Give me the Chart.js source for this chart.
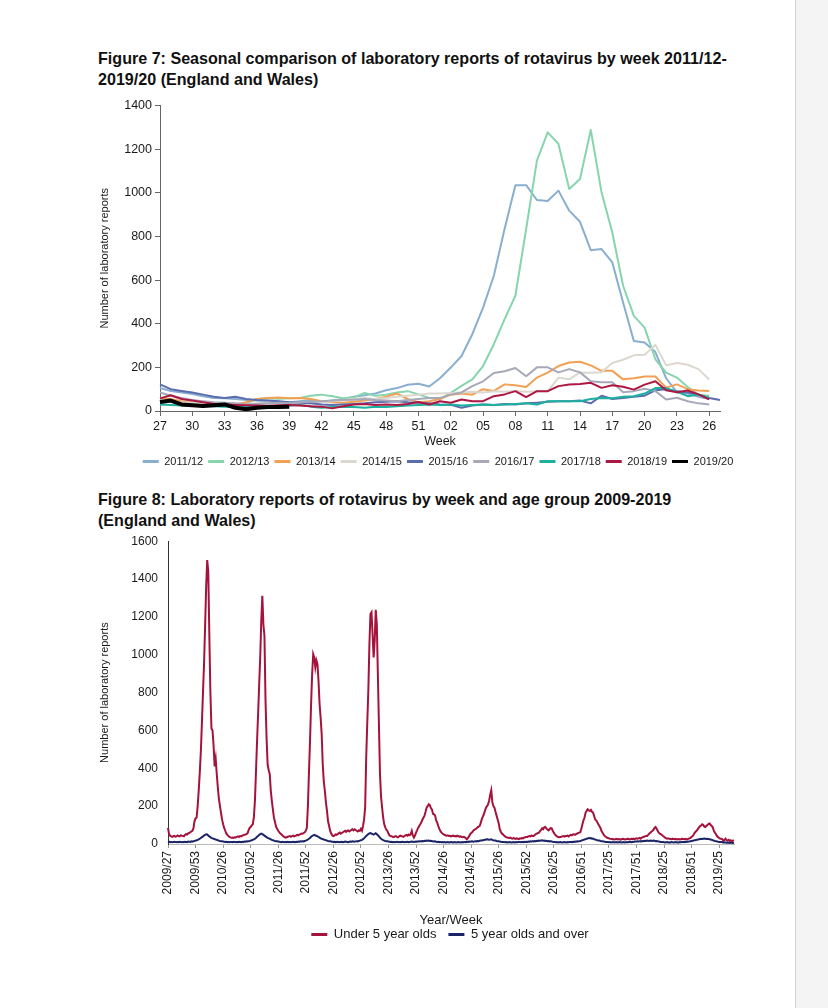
<!DOCTYPE html>
<html><head><meta charset="utf-8">
<script src="https://cdn.jsdelivr.net/npm/chart.js@4.4.1/dist/chart.umd.min.js"></script>
<style>
html,body{margin:0;padding:0;background:#fff;}
body{width:828px;height:1008px;position:relative;overflow:hidden;font-family:'Liberation Sans',Arial,sans-serif;}
.title{position:absolute;left:98px;font-weight:bold;font-size:16.1px;line-height:21px;color:#111;white-space:nowrap;}
#t7{top:48px;}
#t8{top:489px;}
canvas{position:absolute;}
#c7{left:90px;top:95px;}
#c8{left:90px;top:524px;}
#edge{position:absolute;left:795px;top:0;width:33px;height:1008px;background:#f4f4f4;border-left:1px solid #d2d2d2;}
</style></head>
<body>
<div id="edge"></div>
<div class="title" id="t7">Figure 7: Seasonal comparison of laboratory reports of rotavirus by week 2011/12-<br>2019/20 (England and Wales)</div>
<div class="title" id="t8">Figure 8: Laboratory reports of rotavirus by week and age group 2009-2019<br>(England and Wales)</div>
<canvas id="c7" width="650" height="386" style="width:650px;height:386px"></canvas>
<canvas id="c8" width="700" height="439" style="width:700px;height:439px"></canvas>
<script>
// ---------- Figure 7 data ----------
const weeks = ['27','28','29','30','31','32','33','34','35','36','37','38','39','40','41','42','43','44','45','46','47','48','49','50','51','52',
 '01','02','03','04','05','06','07','08','09','10','11','12','13','14','15','16','17','18','19','20','21','22','23','24','25','26',''];
const seasonNames = ['2011/12','2012/13','2013/14','2014/15','2015/16','2016/17','2017/18','2018/19','2019/20'];
const seasonColors = ['#88afd0','#86d5ad','#f2a054','#dcd8d0','#5a6dae','#a7a9b9','#1cb09e','#ae1742','#000000'];
const s2011 = [105,92,85,78,68,60,58,55,50,48,45,42,40,45,50,42,48,55,65,72,80,95,105,120,125,112,
 150,199,252,352,474,620,835,1035,1035,967,962,1010,918,867,737,742,681,497,321,314,270,150,85,80,65,55];
const s2012 = [38,42,36,32,30,30,28,32,35,55,58,56,58,60,70,75,68,58,62,83,70,75,85,91,76,60,
 55,83,115,145,206,306,421,528,834,1147,1277,1224,1017,1063,1288,1002,818,574,436,382,237,176,153,110,75,70];
const s2013 = [60,55,45,40,38,35,32,30,40,55,60,62,58,60,55,45,40,38,42,48,55,65,80,55,40,45,
 55,75,80,75,100,92,122,118,110,153,176,206,222,226,209,184,184,145,150,158,158,107,122,100,94,92];
const s2014 = [50,45,40,38,35,30,28,25,30,35,40,38,35,30,35,40,45,50,55,60,55,60,65,70,75,80,
 80,82,85,88,85,90,88,92,88,90,90,153,145,177,175,178,220,235,255,258,303,209,220,212,192,144];
const s2015 = [122,100,92,85,75,65,60,65,55,50,48,45,40,38,35,30,28,30,32,35,40,42,45,40,38,35,
 30,28,15,25,30,28,32,30,35,38,42,45,45,48,35,70,55,60,65,70,95,100,90,85,75,60,50];
const s2016 = [85,70,60,50,45,40,38,35,30,32,35,38,36,40,42,45,48,50,52,55,50,48,45,50,55,60,
 60,75,85,114,136,174,182,197,159,200,200,177,192,177,136,132,132,86,91,102,91,53,61,45,35,30];
const s2017 = [30,28,25,24,22,22,20,20,18,18,20,22,25,28,20,15,18,20,18,15,20,18,22,25,28,30,
 28,30,25,28,30,28,30,32,35,30,45,45,45,45,55,60,58,65,68,80,105,105,88,68,76,60];
const s2018 = [58,72,55,48,40,32,30,28,26,25,24,26,28,25,22,20,12,22,30,32,28,30,28,32,41,30,
 45,38,53,45,45,68,76,91,64,91,91,114,121,124,129,106,118,111,98,121,136,95,86,94,76,53];
const s2019 = [41,48,30,26,23,26,30,15,8,15,18,18,20];
const seasonValues = [s2011,s2012,s2013,s2014,s2015,s2016,s2017,s2018,s2019];
const yTicks7 = [0,200,400,600,800,1000,1200,1400];

// ---------- Figure 8 data ----------
const startYear = 2009, startWeek = 27, endYear = 2019, endWeek = 39;
const longYears = [2009, 2015]; // years with ISO week 53
const under5 = [
 85,52,44,40,38,41,43,39,40,45,42,40,46,44,43,41,48,52,50,56,58,62,66,70,82,120,
 135,140,200,285,380,490,640,800,950,1150,1360,1500,1440,1100,800,610,600,520,410,450,370,300,240,200,165,130,
 104,85,70,56,48,42,38,35,33,34,32,36,35,38,40,37,42,40,44,46,48,50,52,56,72,85,
 90,98,104,140,227,380,540,686,840,986,1180,1312,1160,1100,760,560,420,390,369,280,227,180,139,115,90,80,
 70,62,55,51,45,40,36,34,36,38,40,42,38,42,44,40,43,45,48,46,50,52,55,54,58,62,
 70,86,200,380,545,740,900,1004,986,933,970,951,862,740,668,580,420,330,280,220,175,120,95,69,55,45,
 42,44,50,48,52,56,60,54,58,62,66,70,64,69,72,66,70,75,78,72,78,74,70,66,72,69,
 80,70,95,130,192,457,640,810,1050,1215,1224,1109,986,1074,1238,1162,898,633,369,250,192,140,104,88,75,69,
 55,45,42,40,38,36,40,42,38,35,40,44,42,40,38,42,45,48,44,50,46,52,69,45,34,45,
 60,72,85,95,104,115,128,139,150,170,192,200,210,205,190,183,160,157,150,125,113,95,80,69,60,55,
 51,48,45,44,46,42,43,40,42,44,41,42,40,44,42,38,40,37,36,38,35,30,25,32,40,51,
 58,62,70,75,78,82,88,92,95,110,130,145,157,175,192,200,210,230,260,284,220,200,192,170,150,130,
 110,78,65,55,51,45,40,36,34,33,32,34,30,28,32,29,27,30,28,26,30,28,32,30,34,36,
 37,37,40,42,40,45,42,42,48,52,55,58,60,68,75,83,78,88,90,82,76,72,78,84,83,70,
 60,51,45,40,37,36,37,38,40,42,39,42,42,44,40,45,48,46,50,51,48,52,55,58,60,62,
 80,104,125,140,166,175,183,178,175,180,170,166,150,130,125,115,104,95,85,69,60,50,42,38,34,32,
 30,28,27,25,26,24,25,27,24,26,25,23,25,27,26,24,25,26,28,25,24,27,26,28,25,28,
 30,28,30,32,28,34,36,38,40,42,42,48,55,60,65,69,75,85,90,80,70,60,55,52,48,42,
 38,34,30,28,30,27,26,25,28,26,25,27,24,25,26,24,25,28,26,25,27,24,26,28,30,32,
 38,42,50,60,66,72,80,88,95,98,104,100,92,90,96,100,106,108,100,95,88,69,60,52,42,36,
 32,28,28,25,16,22,28,20,18,22,16,20,14,18,20];
const over5 = [
 14,12,10,11,9,10,12,10,9,11,10,12,10,9,11,10,12,11,10,13,12,11,14,12,15,16,
 18,20,22,25,28,32,36,40,45,48,51,50,45,40,36,32,30,28,26,24,22,20,18,16,15,14,
 13,12,11,12,10,11,9,10,11,10,12,10,9,11,10,12,11,10,12,11,13,12,14,13,15,16,
 18,20,22,24,28,32,38,42,48,52,55,52,48,44,40,36,32,30,28,25,22,20,18,16,15,14,
 13,12,11,10,12,10,9,11,10,12,10,11,9,10,12,11,10,12,11,13,12,14,13,15,14,16,
 18,20,24,28,32,38,42,46,48,45,44,40,38,34,30,28,26,24,22,20,18,16,15,14,13,12,
 11,12,10,11,12,10,9,11,12,10,11,13,12,11,10,12,13,12,14,13,12,14,15,14,16,18,
 20,22,26,30,36,42,48,52,56,58,55,52,50,54,57,52,46,40,34,28,24,20,18,16,15,14,
 13,12,11,12,10,11,9,10,12,10,9,11,10,12,11,9,10,11,12,10,11,12,13,12,11,12,
 13,12,14,13,15,14,16,15,17,16,18,17,18,16,17,15,14,13,14,12,11,12,10,11,9,10,
 9,10,8,9,10,8,9,10,9,8,10,9,8,9,10,9,8,9,10,9,11,10,12,11,13,12,
 13,14,12,13,15,14,16,15,17,18,19,20,21,22,24,25,24,22,23,25,22,20,19,18,16,15,
 14,13,12,11,10,11,9,10,8,9,10,9,8,9,10,8,9,10,9,11,10,9,11,10,12,11,
 12,11,13,12,14,13,15,14,16,15,17,16,18,17,18,19,17,18,16,17,15,16,14,15,13,12,
 11,10,9,10,8,9,10,9,8,9,10,9,8,10,9,10,11,10,12,11,13,12,14,13,15,16,
 18,20,22,24,26,28,30,32,30,31,28,29,26,24,22,20,19,18,16,15,14,13,12,11,10,10,
 9,10,8,9,10,8,9,10,8,9,10,9,8,9,10,8,9,10,9,10,11,10,12,11,12,13,
 13,14,13,15,14,16,15,16,17,16,18,17,16,18,17,16,18,17,15,16,14,13,12,11,10,10,
 9,8,9,10,8,9,8,10,9,8,9,10,8,9,8,10,9,10,11,10,12,11,13,12,14,15,
 16,17,18,20,21,22,24,25,26,28,27,28,29,28,27,28,26,25,24,22,20,18,16,15,14,12,
 11,10,10,9,8,9,8,7,8,7,6,7,6,5,6];
const ageNames = ['Under 5 year olds','5 year olds and over'];
const ageColors = ['#a5123c','#1b2467'];
const yTicks8 = [0,200,400,600,800,1000,1200,1400,1600];

// category labels Year/Week
const yearWeek = [];
for (let y = startYear; y <= endYear; y++) {
  const last = y === endYear ? endWeek : (longYears.includes(y) ? 53 : 52);
  for (let w = (y === startYear ? startWeek : 1); w <= last; w++) {
    yearWeek.push(y + '/' + String(w).padStart(2, '0'));
  }
}

Chart.defaults.font.family = "'Liberation Sans', Arial, sans-serif";
Chart.defaults.color = '#1a1a1a';

const legendLabels = (chart) => chart.data.datasets.map((ds, i) => ({
  text: ds.label, fillStyle: ds.borderColor, strokeStyle: ds.borderColor,
  lineWidth: 0, hidden: false, datasetIndex: i, fontColor: '#1a1a1a'
}));

const shiftLegend = (dx, dy) => ({
  id: 'shiftLegend',
  afterLayout(chart) { const l = chart.legend; if (l) { l.left += dx; l.right += dx; l.top += dy; l.bottom += dy; } }
});

// ---------- Figure 7 chart ----------
new Chart(document.getElementById('c7'), {
  type: 'line',
  data: {
    labels: weeks,
    datasets: seasonNames.map((n, i) => ({
      label: n, data: seasonValues[i], borderColor: seasonColors[i], backgroundColor: seasonColors[i],
      borderWidth: i === 8 ? 4 : 2, pointRadius: 0, tension: 0, fill: false, order: 8 - i,
      borderJoinStyle: 'round'
    }))
  },
  options: {
    responsive: false, animation: false, events: [],
    layout: { padding: { left: 0, right: 20, top: 10, bottom: 4 } },
    plugins: {
      tooltip: { enabled: false },
      legend: { position: 'bottom', labels: { boxWidth: 16, boxHeight: 3, padding: 5, font: { size: 11 }, generateLabels: legendLabels } }
    },
    scales: {
      x: {
        offset: false,
        grid: { drawOnChartArea: false, drawTicks: true, tickLength: 5, color: '#666' },
        border: { color: '#666', width: 1 },
        ticks: { autoSkip: false, maxRotation: 0, minRotation: 0, padding: 3, font: { size: 12.5 },
          callback: (v, i) => (i % 3 === 0 && weeks[i] !== '') ? weeks[i] : null },
        title: { display: true, text: 'Week', font: { size: 12.5 }, padding: { top: 2, bottom: 2 } },
        afterFit: (s) => { s.height = 40; }
      },
      y: {
        min: 0, max: 1400,
        afterBuildTicks: (s) => { s.ticks = yTicks7.map(v => ({ value: v })); },
        grid: { drawOnChartArea: false, drawTicks: true, tickLength: 5, color: '#666' },
        border: { color: '#666', width: 1 },
        ticks: { padding: 3, font: { size: 12.5 }, callback: (v) => String(v) },
        title: { display: true, text: 'Number of laboratory reports', font: { size: 11 }, padding: { top: 8, bottom: 0 } },
        afterFit: (s) => { s.width = 70; }
      }
    }
  },
  plugins: [shiftLegend(33, 0)]
});

// ---------- Figure 8 chart ----------
new Chart(document.getElementById('c8'), {
  type: 'line',
  data: {
    labels: yearWeek,
    datasets: [
      { label: ageNames[0], data: under5, borderColor: ageColors[0], backgroundColor: ageColors[0], borderWidth: 2, pointRadius: 0, tension: 0, order: 1 },
      { label: ageNames[1], data: over5, borderColor: ageColors[1], backgroundColor: ageColors[1], borderWidth: 2, pointRadius: 0, tension: 0, order: 0 }
    ]
  },
  options: {
    responsive: false, animation: false, events: [],
    layout: { padding: { left: 0, right: 56, top: 6, bottom: 0 } },
    plugins: {
      tooltip: { enabled: false },
      legend: { position: 'bottom', labels: { boxWidth: 16, boxHeight: 3, padding: 12, font: { size: 13 }, generateLabels: legendLabels } }
    },
    scales: {
      x: {
        offset: false,
        grid: { drawOnChartArea: false, drawTicks: true, tickLength: 4, color: '#999' },
        border: { color: '#bbb', width: 1 },
        ticks: { autoSkip: false, maxRotation: 90, minRotation: 90, padding: 3, font: { size: 12 },
          callback: (v, i) => (i % 26 === 0) ? yearWeek[i] : null },
        title: { display: true, text: 'Year/Week', font: { size: 13 }, padding: { top: 0, bottom: 0 } },
        afterFit: (s) => { s.height = 84; }
      },
      y: {
        min: 0, max: 1600,
        afterBuildTicks: (s) => { s.ticks = yTicks8.map(v => ({ value: v })); },
        grid: { drawOnChartArea: false, drawTicks: false },
        border: { color: '#333', width: 1 },
        ticks: { padding: 10, font: { size: 12 }, callback: (v) => String(v) },
        title: { display: true, text: 'Number of laboratory reports', font: { size: 11 }, padding: { top: 8, bottom: 0 } },
        afterFit: (s) => { s.width = 78; }
      }
    }
  },
  plugins: [shiftLegend(38, -12)]
});
</script>
</body></html>
